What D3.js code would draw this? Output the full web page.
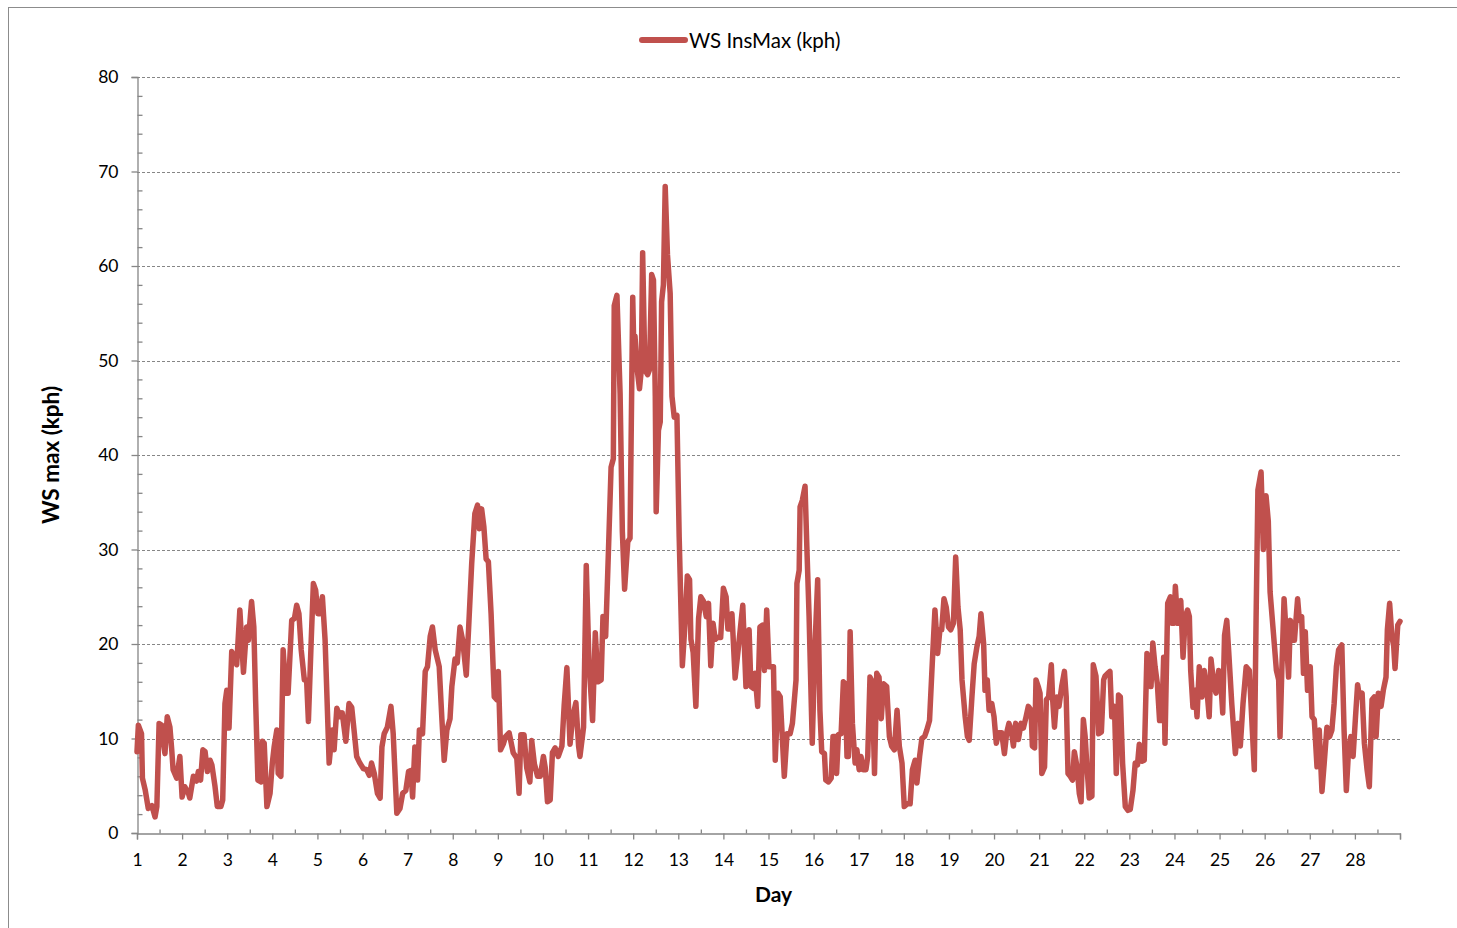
<!DOCTYPE html>
<html>
<head>
<meta charset="utf-8">
<script src="https://cdn.jsdelivr.net/npm/d3@7"></script>
<style>
  html, body { margin: 0; padding: 0; background: #fff; }
  svg { display: block; font-family: Lato, "Open Sans", sans-serif; }
</style>
</head>
<body>
<svg id="chart" width="1457" height="928"></svg>
<script>
// Time of each reading, in days of the month (fractional)
const dayTime = [
  1.00,1.03,1.10,1.12,1.18,1.25,1.33,1.40,1.44,1.49,
  1.55,1.58,1.62,1.67,1.73,1.77,1.80,1.88,1.95,2.00,
  2.06,2.14,2.17,2.25,2.32,2.36,2.41,2.46,2.51,2.56,
  2.62,2.66,2.73,2.78,2.86,2.90,2.95,2.99,3.04,3.10,
  3.15,3.21,3.28,3.36,3.43,3.47,3.54,3.59,3.63,3.68,
  3.75,3.78,3.82,3.88,3.95,4.00,4.04,4.10,4.13,4.19,
  4.24,4.30,4.35,4.43,4.49,4.54,4.59,4.64,4.71,4.76,
  4.80,4.86,4.91,4.96,5.01,5.06,5.11,5.17,5.26,5.33,
  5.37,5.43,5.50,5.55,5.63,5.70,5.76,5.82,5.87,5.94,
  6.02,6.09,6.15,6.20,6.26,6.33,6.39,6.43,6.48,6.55,
  6.63,6.68,6.76,6.83,6.89,6.96,7.02,7.07,7.11,7.16,
  7.22,7.26,7.33,7.39,7.44,7.50,7.55,7.61,7.70,7.76,
  7.81,7.87,7.94,7.98,8.05,8.10,8.16,8.22,8.30,8.35,
  8.42,8.49,8.55,8.59,8.64,8.69,8.74,8.79,8.85,8.92,
  8.98,9.01,9.06,9.12,9.17,9.25,9.34,9.42,9.47,9.51,
  9.58,9.64,9.71,9.75,9.81,9.88,9.94,10.01,10.05,10.10,
  10.16,10.21,10.27,10.34,10.42,10.47,10.53,10.60,10.66,10.73,
  10.79,10.82,10.90,10.96,11.02,11.10,11.16,11.22,11.29,11.33,
  11.39,11.45,11.51,11.56,11.58,11.64,11.71,11.76,11.81,11.88,
  11.93,11.99,12.02,12.04,12.09,12.14,12.18,12.21,12.26,12.32,
  12.36,12.41,12.45,12.49,12.51,12.56,12.60,12.63,12.67,12.71,
  12.76,12.82,12.86,12.91,12.97,13.02,13.09,13.15,13.20,13.25,
  13.28,13.33,13.39,13.45,13.50,13.56,13.62,13.67,13.72,13.77,
  13.82,13.87,13.94,14.00,14.06,14.10,14.15,14.19,14.26,14.33,
  14.39,14.43,14.50,14.57,14.61,14.67,14.70,14.76,14.81,14.87,
  14.91,14.96,15.01,15.11,15.15,15.21,15.26,15.35,15.41,15.48,
  15.53,15.61,15.63,15.68,15.70,15.75,15.81,15.85,15.90,15.97,
  16.03,16.09,16.14,16.18,16.24,16.27,16.33,16.39,16.43,16.48,
  16.51,16.55,16.61,16.66,16.70,16.74,16.77,16.81,16.86,16.92,
  16.96,17.01,17.05,17.10,17.16,17.20,17.25,17.30,17.35,17.40,
  17.45,17.50,17.55,17.62,17.68,17.73,17.79,17.85,17.90,17.96,
  18.01,18.08,18.14,18.19,18.25,18.29,18.35,18.40,18.46,18.51,
  18.57,18.62,18.66,18.69,18.75,18.80,18.84,18.89,18.94,18.99,
  19.04,19.10,19.15,19.20,19.25,19.29,19.36,19.41,19.45,19.51,
  19.56,19.62,19.67,19.71,19.77,19.80,19.85,19.89,19.95,20.00,
  20.05,20.10,20.17,20.23,20.28,20.33,20.38,20.43,20.48,20.54,
  20.60,20.65,20.71,20.76,20.82,20.85,20.90,20.93,20.98,21.02,
  21.06,21.12,21.16,21.21,21.27,21.30,21.34,21.39,21.44,21.50,
  21.56,21.60,21.64,21.69,21.74,21.78,21.84,21.89,21.93,21.98,
  22.02,22.06,22.11,22.17,22.20,22.26,22.32,22.38,22.43,22.46,
  22.52,22.57,22.61,22.67,22.71,22.76,22.80,22.85,22.91,22.97,
  23.02,23.08,23.13,23.18,23.22,23.28,23.33,23.39,23.45,23.48,
  23.52,23.57,23.62,23.67,23.72,23.76,23.79,23.85,23.91,23.94,
  23.99,24.02,24.07,24.11,24.14,24.19,24.24,24.29,24.33,24.36,
  24.41,24.46,24.50,24.55,24.61,24.66,24.72,24.77,24.81,24.87,
  24.92,24.98,25.03,25.07,25.11,25.16,25.20,25.27,25.35,25.41,
  25.46,25.52,25.59,25.66,25.77,25.81,25.85,25.92,25.97,26.03,
  26.08,26.12,26.20,26.26,26.31,26.34,26.38,26.43,26.48,26.53,
  26.57,26.62,26.66,26.73,26.77,26.82,26.86,26.90,26.95,27.01,
  27.05,27.10,27.16,27.21,27.27,27.32,27.38,27.44,27.49,27.54,
  27.59,27.64,27.71,27.76,27.81,27.86,27.91,27.96,28.01,28.06,
  28.10,28.16,28.21,28.27,28.32,28.38,28.43,28.47,28.52,28.58,
  28.63,28.69,28.72,28.77,28.82,28.86,28.89,28.95,29.00
];

// Instantaneous maximum wind speed (kph) at each reading
const wsInsMax = [
  8.6,11.4,10.5,5.8,4.6,2.6,2.9,1.7,2.8,11.6,
  11.4,9.8,8.4,12.3,11.2,8.8,6.7,5.8,8.1,3.8,
  4.9,4.2,3.7,6.0,5.5,6.5,5.6,8.8,8.6,6.5,
  7.7,7.2,4.9,2.8,2.8,3.5,13.7,15.1,11.1,19.2,
  18.7,17.8,23.6,17.0,21.8,20.4,24.5,21.8,14.0,5.6,
  5.4,9.7,9.5,2.8,4.2,7.4,9.1,10.9,6.3,6.0,
  19.4,14.8,14.8,22.5,22.7,24.1,23.2,19.4,16.2,16.2,
  11.8,20.1,26.4,25.7,23.2,23.2,25.0,20.4,7.4,10.9,
  8.8,13.2,12.3,12.7,9.7,13.7,13.3,10.5,8.1,7.4,
  6.8,6.7,6.1,7.4,6.3,4.2,3.7,9.1,10.5,11.2,
  13.4,10.5,2.1,2.6,4.2,4.5,6.5,6.6,3.8,9.1,
  5.6,10.9,10.5,17.1,17.6,20.8,21.8,19.4,17.6,12.0,
  7.7,10.9,12.1,15.5,18.4,18.0,21.8,20.4,16.7,21.5,
  28.5,33.8,34.7,32.2,34.3,32.4,29.0,28.7,23.2,14.4,
  14.1,17.1,8.8,9.4,10.2,10.6,8.5,7.9,4.2,10.4,
  10.4,6.9,5.4,9.8,7.3,6.0,6.0,8.1,6.9,3.3,
  3.5,8.5,9.0,8.1,9.2,13.5,17.5,9.4,12.3,13.8,
  9.2,8.1,11.2,28.3,18.1,11.9,21.2,16.0,16.2,22.9,
  20.8,29.6,38.7,39.6,55.8,56.9,46.5,31.9,25.8,30.8,
  31.2,56.7,49.9,52.6,49.0,47.0,49.0,61.4,49.0,48.5,
  49.0,59.1,58.5,46.2,34.0,42.6,43.5,56.2,58.0,68.4,
  61.2,57.1,46.2,44.0,44.2,31.3,17.7,22.2,27.2,26.8,
  20.5,19.1,13.4,22.7,25.0,24.5,22.9,24.3,17.7,22.2,
  20.5,20.7,20.7,25.9,25.0,21.6,21.6,23.2,16.4,19.5,
  22.3,24.1,15.5,21.5,15.5,15.3,16.9,13.4,21.8,22.0,
  17.2,23.6,17.6,17.6,7.7,14.8,14.4,6.0,10.5,10.5,
  11.6,16.2,26.4,27.8,34.5,35.2,36.7,30.3,22.9,9.5,
  19.7,26.8,13.0,8.6,8.4,5.6,5.4,5.8,10.2,10.2,
  6.3,10.4,10.5,16.0,15.8,8.1,8.1,21.3,11.6,7.4,
  8.8,6.7,8.1,6.7,6.7,8.1,16.5,16.0,6.3,16.9,
  16.5,12.1,15.8,15.5,10.2,9.2,8.8,13.0,9.2,7.4,
  2.8,3.1,3.1,6.7,7.7,5.3,8.1,10.0,10.2,10.9,
  11.9,16.9,20.8,23.6,19.0,21.5,21.5,24.8,23.9,21.8,
  21.5,22.2,29.2,23.9,21.5,16.2,12.3,10.2,9.8,14.4,
  17.9,19.7,20.8,23.2,20.0,15.1,16.2,13.0,13.7,12.3,
  9.5,10.6,10.6,8.4,10.6,11.6,10.9,9.2,11.6,9.9,
  11.6,11.1,12.3,13.4,13.0,9.2,9.0,16.2,15.5,14.8,
  6.3,7.0,14.1,14.4,17.8,14.1,11.2,14.4,13.4,15.5,
  17.1,14.4,6.3,6.0,5.6,8.6,7.0,4.2,3.3,12.0,
  10.2,7.0,3.7,3.9,17.8,16.6,10.5,10.7,16.2,16.6,
  16.9,17.1,12.3,13.4,6.3,14.6,14.4,7.4,2.8,2.4,
  2.5,4.5,7.4,7.2,9.4,7.6,7.7,19.0,18.0,15.5,
  20.1,17.6,15.8,11.9,11.9,18.6,9.5,24.3,25.0,22.2,
  22.2,26.1,22.2,22.2,24.6,18.6,22.9,23.6,22.9,17.2,
  13.3,15.1,12.3,17.6,14.4,17.2,15.1,12.3,18.4,15.8,
  14.8,17.2,15.8,12.7,20.9,22.5,19.4,13.7,8.4,11.6,
  9.2,13.7,17.6,17.2,6.7,22.9,36.3,38.2,30.0,35.7,
  33.0,25.5,20.8,17.2,16.2,10.2,17.2,24.8,20.8,16.5,
  22.5,20.4,20.4,24.8,22.5,22.9,16.9,21.3,15.1,17.6,
  12.3,12.0,7.0,10.9,4.4,7.4,11.2,10.2,10.9,13.7,
  17.6,19.4,19.9,10.9,4.5,8.8,10.2,8.1,12.0,15.7,
  14.4,14.8,9.5,6.7,4.9,14.1,14.4,10.2,14.8,13.4,
  15.1,16.5,21.5,24.3,20.8,19.8,17.4,22.0,22.4
];

// Axis ticks
const dayTicks = d3.range(1, 30);          // 1 .. 29
const dayLabels = d3.range(1, 29);         // labelled 1 .. 28
const halfDayTicks = d3.range(1.5, 29, 1); // minor ticks between days
const speedTicks = [0, 10, 20, 30, 40, 50, 60, 70, 80];
const speedMinorTicks = d3.range(0, 81, 2).filter(v => v % 10 !== 0);

const seriesName = "WS InsMax (kph)";
const xTitle = "Day";
const yTitle = "WS max (kph)";

const lineColor = "#C0504D";
const axisColor = "#868686";

const svg = d3.select("#chart");
const W = 1457, H = 928;
const plot = { left: 137, right: 1400, top: 77, bottom: 833 };

// Outer frame of the chart area
svg.append("rect")
  .attr("x", 8.5).attr("y", 7.5)
  .attr("width", W + 20).attr("height", H + 20)
  .attr("fill", "#fff")
  .attr("stroke", "#8c8c8c")
  .attr("stroke-width", 1);

const x = d3.scaleLinear().domain([1, 29]).range([plot.left, plot.right]);
const y = d3.scaleLinear().domain([0, 80]).range([plot.bottom, plot.top]);

// Horizontal dashed gridlines
svg.append("g")
  .selectAll("line")
  .data(speedTicks.filter(v => v > 0))
  .join("line")
  .attr("x1", plot.left).attr("x2", plot.right)
  .attr("y1", d => Math.round(y(d)) + 0.5)
  .attr("y2", d => Math.round(y(d)) + 0.5)
  .attr("stroke", axisColor)
  .attr("stroke-width", 1)
  .attr("stroke-dasharray", "3,2");

// Y axis: major ticks outside with labels
svg.append("g")
  .attr("transform", `translate(${plot.left + 0.5},0)`)
  .call(d3.axisLeft(y).tickValues(speedTicks).tickSize(6).tickPadding(13)
    .tickFormat(d3.format("d")));
// Y axis: minor ticks inside
svg.append("g")
  .attr("transform", `translate(${plot.left + 0.5},0)`)
  .call(d3.axisRight(y).tickValues(speedMinorTicks).tickSize(5).tickFormat(""))
  .call(g => g.select(".domain").remove());

// X axis: major ticks outside, minor ticks inside
svg.append("g")
  .attr("transform", `translate(0,${plot.bottom + 0.5})`)
  .call(d3.axisBottom(x).tickValues(dayTicks).tickSize(6).tickPadding(14)
    .tickFormat(d => dayLabels.includes(d) ? d : ""));
svg.append("g")
  .attr("transform", `translate(0,${plot.bottom + 0.5})`)
  .call(d3.axisTop(x).tickValues(halfDayTicks).tickSize(4).tickFormat(""))
  .call(g => g.select(".domain").remove());

svg.selectAll(".domain, .tick line")
  .attr("stroke", axisColor)
  .attr("stroke-width", 1.3);
svg.selectAll(".tick text")
  .attr("fill", "#000")
  .attr("font-size", 17.5)
  .attr("font-family", "Lato, sans-serif");

// Wind speed line
const points = dayTime.map((d, i) => [d, wsInsMax[i]]);
svg.append("path")
  .datum(points)
  .attr("fill", "none")
  .attr("stroke", lineColor)
  .attr("stroke-width", 5.5)
  .attr("stroke-linejoin", "round")
  .attr("stroke-linecap", "round")
  .attr("d", d3.line().x(d => x(d[0])).y(d => y(d[1])));

// Axis titles
svg.append("text")
  .attr("x", (plot.left + plot.right) / 2 + 5)
  .attr("y", 902)
  .attr("text-anchor", "middle")
  .attr("font-size", 21)
  .attr("font-weight", "bold")
  .text(xTitle);

svg.append("text")
  .attr("transform", `translate(59,455) rotate(-90)`)
  .attr("text-anchor", "middle")
  .attr("font-size", 22.5)
  .attr("font-weight", "bold")
  .text(yTitle);

// Legend
const legend = svg.append("g");
legend.append("line")
  .attr("x1", 642).attr("x2", 685)
  .attr("y1", 40).attr("y2", 40)
  .attr("stroke", lineColor)
  .attr("stroke-width", 6)
  .attr("stroke-linecap", "round");
legend.append("text")
  .attr("x", 689).attr("y", 47.5)
  .attr("font-size", 20.5)
  .attr("fill", "#000")
  .text(seriesName);
</script>
</body>
</html>
